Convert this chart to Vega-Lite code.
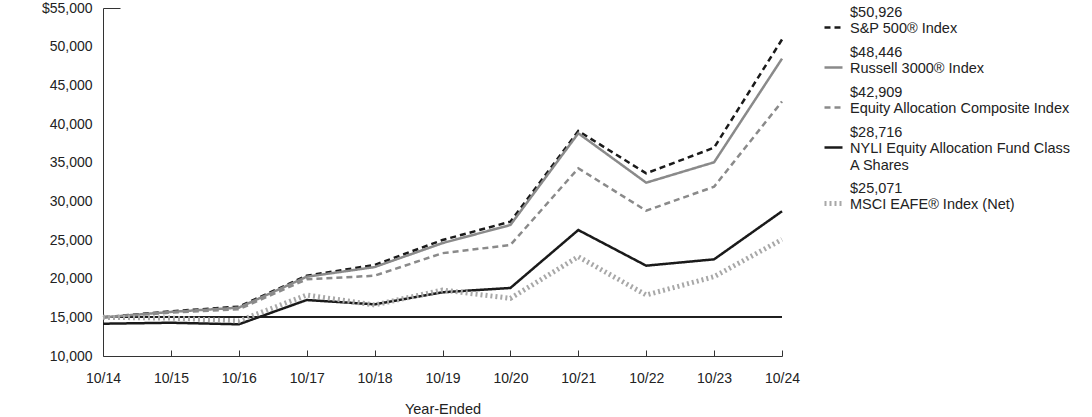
{
  "$schema": "https://vega.github.io/schema/vega-lite/v6.json",
  "autosize": "none",
  "width": 679,
  "height": 348,
  "padding": {"left": 103, "top": 8, "right": 310, "bottom": 61},
  "config": {
    "font": "Liberation Sans",
    "view": {"stroke": null},
    "axis": {"labelColor": "#222", "titleColor": "#222", "domainColor": "#333", "tickColor": "#333", "grid": false, "labelFontSize": 14, "titleFontSize": 14.5, "titleFontWeight": "normal", "labelOverlap": false},
    "legend": {
      "title": null, "orient": "none", "legendX": 719, "legendY": 9, "padding": 0,
      "symbolType": "stroke", "symbolSize": 324, "labelFontSize": 14.5, "labelColor": "#222",
      "labelLimit": 300, "labelOffset": 5, "rowPadding": 8, "labelBaseline": "middle", "labelLineHeight": 15
    }
  },
  "data": {"values": [
    {"year": "10/14", "series": "S&P 500® Index", "value": 15000},
    {"year": "10/15", "series": "S&P 500® Index", "value": 15780},
    {"year": "10/16", "series": "S&P 500® Index", "value": 16380},
    {"year": "10/17", "series": "S&P 500® Index", "value": 20380},
    {"year": "10/18", "series": "S&P 500® Index", "value": 21770},
    {"year": "10/19", "series": "S&P 500® Index", "value": 25000},
    {"year": "10/20", "series": "S&P 500® Index", "value": 27370},
    {"year": "10/21", "series": "S&P 500® Index", "value": 39100},
    {"year": "10/22", "series": "S&P 500® Index", "value": 33620},
    {"year": "10/23", "series": "S&P 500® Index", "value": 36940},
    {"year": "10/24", "series": "S&P 500® Index", "value": 50926},
    {"year": "10/14", "series": "Russell 3000® Index", "value": 15000},
    {"year": "10/15", "series": "Russell 3000® Index", "value": 15700},
    {"year": "10/16", "series": "Russell 3000® Index", "value": 16250},
    {"year": "10/17", "series": "Russell 3000® Index", "value": 20250},
    {"year": "10/18", "series": "Russell 3000® Index", "value": 21500},
    {"year": "10/19", "series": "Russell 3000® Index", "value": 24600},
    {"year": "10/20", "series": "Russell 3000® Index", "value": 26940},
    {"year": "10/21", "series": "Russell 3000® Index", "value": 38800},
    {"year": "10/22", "series": "Russell 3000® Index", "value": 32410},
    {"year": "10/23", "series": "Russell 3000® Index", "value": 35050},
    {"year": "10/24", "series": "Russell 3000® Index", "value": 48446},
    {"year": "10/14", "series": "Equity Allocation Composite Index", "value": 15000},
    {"year": "10/15", "series": "Equity Allocation Composite Index", "value": 15600},
    {"year": "10/16", "series": "Equity Allocation Composite Index", "value": 16040},
    {"year": "10/17", "series": "Equity Allocation Composite Index", "value": 19920},
    {"year": "10/18", "series": "Equity Allocation Composite Index", "value": 20380},
    {"year": "10/19", "series": "Equity Allocation Composite Index", "value": 23300},
    {"year": "10/20", "series": "Equity Allocation Composite Index", "value": 24350},
    {"year": "10/21", "series": "Equity Allocation Composite Index", "value": 34270},
    {"year": "10/22", "series": "Equity Allocation Composite Index", "value": 28790},
    {"year": "10/23", "series": "Equity Allocation Composite Index", "value": 31890},
    {"year": "10/24", "series": "Equity Allocation Composite Index", "value": 42909},
    {"year": "10/14", "series": "NYLI Equity Allocation Fund Class A Shares", "value": 14175},
    {"year": "10/15", "series": "NYLI Equity Allocation Fund Class A Shares", "value": 14300},
    {"year": "10/16", "series": "NYLI Equity Allocation Fund Class A Shares", "value": 14100},
    {"year": "10/17", "series": "NYLI Equity Allocation Fund Class A Shares", "value": 17240},
    {"year": "10/18", "series": "NYLI Equity Allocation Fund Class A Shares", "value": 16680},
    {"year": "10/19", "series": "NYLI Equity Allocation Fund Class A Shares", "value": 18240},
    {"year": "10/20", "series": "NYLI Equity Allocation Fund Class A Shares", "value": 18800},
    {"year": "10/21", "series": "NYLI Equity Allocation Fund Class A Shares", "value": 26290},
    {"year": "10/22", "series": "NYLI Equity Allocation Fund Class A Shares", "value": 21680},
    {"year": "10/23", "series": "NYLI Equity Allocation Fund Class A Shares", "value": 22500},
    {"year": "10/24", "series": "NYLI Equity Allocation Fund Class A Shares", "value": 28716},
    {"year": "10/14", "series": "MSCI EAFE® Index (Net)", "value": 15000},
    {"year": "10/15", "series": "MSCI EAFE® Index (Net)", "value": 14900},
    {"year": "10/16", "series": "MSCI EAFE® Index (Net)", "value": 14530},
    {"year": "10/17", "series": "MSCI EAFE® Index (Net)", "value": 17890},
    {"year": "10/18", "series": "MSCI EAFE® Index (Net)", "value": 16600},
    {"year": "10/19", "series": "MSCI EAFE® Index (Net)", "value": 18530},
    {"year": "10/20", "series": "MSCI EAFE® Index (Net)", "value": 17460},
    {"year": "10/21", "series": "MSCI EAFE® Index (Net)", "value": 22840},
    {"year": "10/22", "series": "MSCI EAFE® Index (Net)", "value": 17890},
    {"year": "10/23", "series": "MSCI EAFE® Index (Net)", "value": 20260},
    {"year": "10/24", "series": "MSCI EAFE® Index (Net)", "value": 25071}
  ]},
  "layer": [
    {
      "mark": {"type": "rule", "color": "#222", "strokeWidth": 1},
      "encoding": {"y": {"datum": 15000, "type": "quantitative",
          "scale": {"domain": [10000, 55000], "nice": false, "zero": false},
          "axis": {
            "title": null,
            "values": [10000,15000,20000,25000,30000,35000,40000,45000,50000,55000],
            "labelExpr": "datum.value === 55000 ? '$55,000' : format(datum.value, ',')",
            "labelOverlap": false,
            "tickSize": -17,
            "tickColor": {"condition": {"test": "datum.value === 55000", "value": "#333"}, "value": "transparent"},
            "labelPadding": 28
          }}}
    },
    {
      "mark": {"type": "line", "strokeCap": "butt"},
      "encoding": {
        "x": {
          "field": "year", "type": "ordinal",
          "scale": {"type": "point", "padding": 0, "domain": ["10/14","10/15","10/16","10/17","10/18","10/19","10/20","10/21","10/22","10/23","10/24"]},
          "axis": {"title": "Year-Ended", "labelAngle": 0, "tickSize": -6, "labelPadding": 21, "titlePadding": 17}
        },
        "y": {
          "field": "value", "type": "quantitative",
          "scale": {"domain": [10000, 55000], "nice": false, "zero": false},
          "axis": {
            "title": null,
            "values": [10000,15000,20000,25000,30000,35000,40000,45000,50000,55000],
            "labelExpr": "datum.value === 55000 ? '$55,000' : format(datum.value, ',')",
            "labelOverlap": false,
            "tickSize": -17,
            "tickColor": {"condition": {"test": "datum.value === 55000", "value": "#333"}, "value": "transparent"},
            "labelPadding": 28
          }
        },
        "color": {
          "field": "series", "type": "nominal",
          "scale": {"domain": ["S&P 500® Index","Russell 3000® Index","Equity Allocation Composite Index","NYLI Equity Allocation Fund Class A Shares","MSCI EAFE® Index (Net)"],
                    "range": ["#1a1a1a","#8a8a8a","#8a8a8a","#1a1a1a","#a8a8a8"]},
          "legend": {
            "labelExpr": "datum.value === 'S&P 500® Index' ? ['$50,926', 'S&P 500® Index'] : datum.value === 'Russell 3000® Index' ? ['$48,446', 'Russell 3000® Index'] : datum.value === 'Equity Allocation Composite Index' ? ['$42,909', 'Equity Allocation Composite Index'] : datum.value === 'NYLI Equity Allocation Fund Class A Shares' ? ['$28,716', 'NYLI Equity Allocation Fund Class', 'A Shares'] : ['$25,071', 'MSCI EAFE® Index (Net)']",
            "encode": {"labels": {"update": {"dy": {"value": -15}}}}
          }
        },
        "strokeDash": {
          "field": "series", "type": "nominal",
          "scale": {"domain": ["S&P 500® Index","Russell 3000® Index","Equity Allocation Composite Index","NYLI Equity Allocation Fund Class A Shares","MSCI EAFE® Index (Net)"],
                    "range": [[6,4],[1,0],[6,4],[1,0],[2,3]]},
          "legend": {
            "labelExpr": "datum.value === 'S&P 500® Index' ? ['$50,926', 'S&P 500® Index'] : datum.value === 'Russell 3000® Index' ? ['$48,446', 'Russell 3000® Index'] : datum.value === 'Equity Allocation Composite Index' ? ['$42,909', 'Equity Allocation Composite Index'] : datum.value === 'NYLI Equity Allocation Fund Class A Shares' ? ['$28,716', 'NYLI Equity Allocation Fund Class', 'A Shares'] : ['$25,071', 'MSCI EAFE® Index (Net)']",
            "encode": {"labels": {"update": {"dy": {"value": -15}}}}
          }
        },
        "strokeWidth": {
          "field": "series", "type": "nominal",
          "scale": {"type": "ordinal", "domain": ["S&P 500® Index","Russell 3000® Index","Equity Allocation Composite Index","NYLI Equity Allocation Fund Class A Shares","MSCI EAFE® Index (Net)"],
                    "range": [2.5, 2.5, 2.5, 2.5, 5]},
          "legend": {
            "labelExpr": "datum.value === 'S&P 500® Index' ? ['$50,926', 'S&P 500® Index'] : datum.value === 'Russell 3000® Index' ? ['$48,446', 'Russell 3000® Index'] : datum.value === 'Equity Allocation Composite Index' ? ['$42,909', 'Equity Allocation Composite Index'] : datum.value === 'NYLI Equity Allocation Fund Class A Shares' ? ['$28,716', 'NYLI Equity Allocation Fund Class', 'A Shares'] : ['$25,071', 'MSCI EAFE® Index (Net)']",
            "encode": {"labels": {"update": {"dy": {"value": -15}}}}
          }
        }
      }
    }
  ]
}
